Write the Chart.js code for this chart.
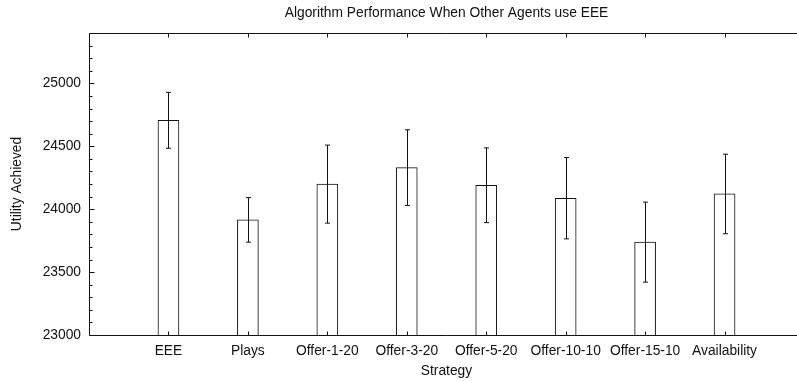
<!DOCTYPE html>
<html>
<head>
<meta charset="utf-8">
<script src="https://cdn.jsdelivr.net/npm/chart.js@4/dist/chart.umd.min.js"></script>
<style>
  html, body { margin: 0; padding: 0; overflow: hidden; background: #fff; }
  canvas { display: block; }
</style>
</head>
<body>
<canvas id="chart" width="812" height="381"></canvas>
<script>
// Mean utility per strategy and the half-width of its error bar
const strategies = ['EEE', 'Plays', 'Offer-1-20', 'Offer-3-20', 'Offer-5-20', 'Offer-10-10', 'Offer-15-10', 'Availability'];
const utility = [24706, 23915, 24199, 24330, 24190, 24087, 23738, 24121];
const utilityError = [222, 177, 310, 301, 297, 323, 318, 316];
const yTickValues = [23000, 23500, 24000, 24500, 25000];
const yRange = [23000, 25400];
const yMinorStep = 100;

const FONT = '"Liberation Sans", Arial, Helvetica, sans-serif';
const TEXT = '#111';
const FONT_SIZE = 13.8;

// Frame, inward ticks, error bars and the heading
const framePlugin = {
  id: 'frame',
  afterDatasetsDraw(chart) {
    const { ctx, chartArea: a, scales: { x, y } } = chart;
    ctx.save();
    ctx.strokeStyle = '#111';
    ctx.lineWidth = 1;

    // error bars
    utility.forEach((v, i) => {
      const px = Math.round(x.getPixelForValue(i + 1)) + 0.5;
      const hi = y.getPixelForValue(v + utilityError[i]);
      const lo = y.getPixelForValue(v - utilityError[i]);
      ctx.beginPath();
      ctx.moveTo(px, hi); ctx.lineTo(px, lo);
      ctx.moveTo(px - 2.5, hi); ctx.lineTo(px + 2.5, hi);
      ctx.moveTo(px - 2.5, lo); ctx.lineTo(px + 2.5, lo);
      ctx.stroke();
    });

    // axis lines: left, bottom, top
    const L = Math.round(a.left) + 0.5, T = Math.round(a.top) + 0.5, B = Math.round(a.bottom) + 0.5;
    ctx.beginPath();
    ctx.moveTo(L, T); ctx.lineTo(L, B);
    ctx.moveTo(L, B); ctx.lineTo(a.right, B);
    ctx.moveTo(L, T); ctx.lineTo(a.right, T);
    ctx.stroke();

    // category ticks on top and bottom, pointing inward
    ctx.beginPath();
    strategies.forEach((_, i) => {
      const px = Math.round(x.getPixelForValue(i + 1)) + 0.5;
      ctx.moveTo(px, B); ctx.lineTo(px, B - 4);
      ctx.moveTo(px, T); ctx.lineTo(px, T + 4);
    });
    // y ticks: long at labelled values, short every minor step
    for (let v = yRange[0]; v <= yRange[1]; v += yMinorStep) {
      const py = Math.round(y.getPixelForValue(v)) + 0.5;
      const len = yTickValues.includes(v) ? 5 : 3;
      ctx.moveTo(L, py); ctx.lineTo(L + len, py);
    }
    ctx.stroke();

    // heading centred over the plot
    ctx.fillStyle = TEXT;
    ctx.font = FONT_SIZE + 'px ' + FONT;
    ctx.textAlign = 'center';
    ctx.textBaseline = 'middle';
    ctx.fillText('Algorithm Performance When Other Agents use EEE', (a.left + a.right) / 2, 13);
    ctx.restore();
  }
};

const tickFont = { family: FONT, size: FONT_SIZE };

new Chart(document.getElementById('chart'), {
  type: 'bar',
  data: {
    datasets: [{
      data: utility.map((v, i) => ({ x: i + 1, y: v })),
      backgroundColor: '#ffffff',
      borderColor: '#111',
      borderWidth: 1,
      barThickness: 21
    }]
  },
  options: {
    responsive: false,
    animation: false,
    layout: { padding: { top: 33, right: 7, left: 0, bottom: 0 } },
    plugins: { legend: { display: false }, tooltip: { enabled: false }, title: { display: false } },
    scales: {
      x: {
        type: 'linear',
        position: 'bottom',
        offset: false,
        min: 0,
        max: strategies.length + 1,
        grid: { display: false, drawTicks: false, offset: false },
        border: { display: false },
        ticks: {
          stepSize: 1,
          autoSkip: false,
          maxRotation: 0,
          padding: 8,
          color: TEXT,
          font: tickFont,
          callback: v => strategies[v - 1] ?? ''
        },
        title: { display: true, text: 'Strategy', color: TEXT, font: tickFont, padding: { top: 0, bottom: 2 } },
        afterFit(s) { s.height = 46; }
      },
      y: {
        min: yRange[0],
        max: yRange[1],
        grid: { display: false, drawTicks: false },
        border: { display: false },
        afterBuildTicks(s) { s.ticks = yTickValues.map(v => ({ value: v })); },
        ticks: { padding: 8, color: TEXT, font: tickFont, callback: v => String(v) },
        title: { display: true, text: 'Utility Achieved', color: TEXT, font: tickFont, padding: { top: 9, bottom: 0 } },
        afterFit(s) { s.width = 89; }
      }
    }
  },
  plugins: [framePlugin]
});
</script>
</body>
</html>
